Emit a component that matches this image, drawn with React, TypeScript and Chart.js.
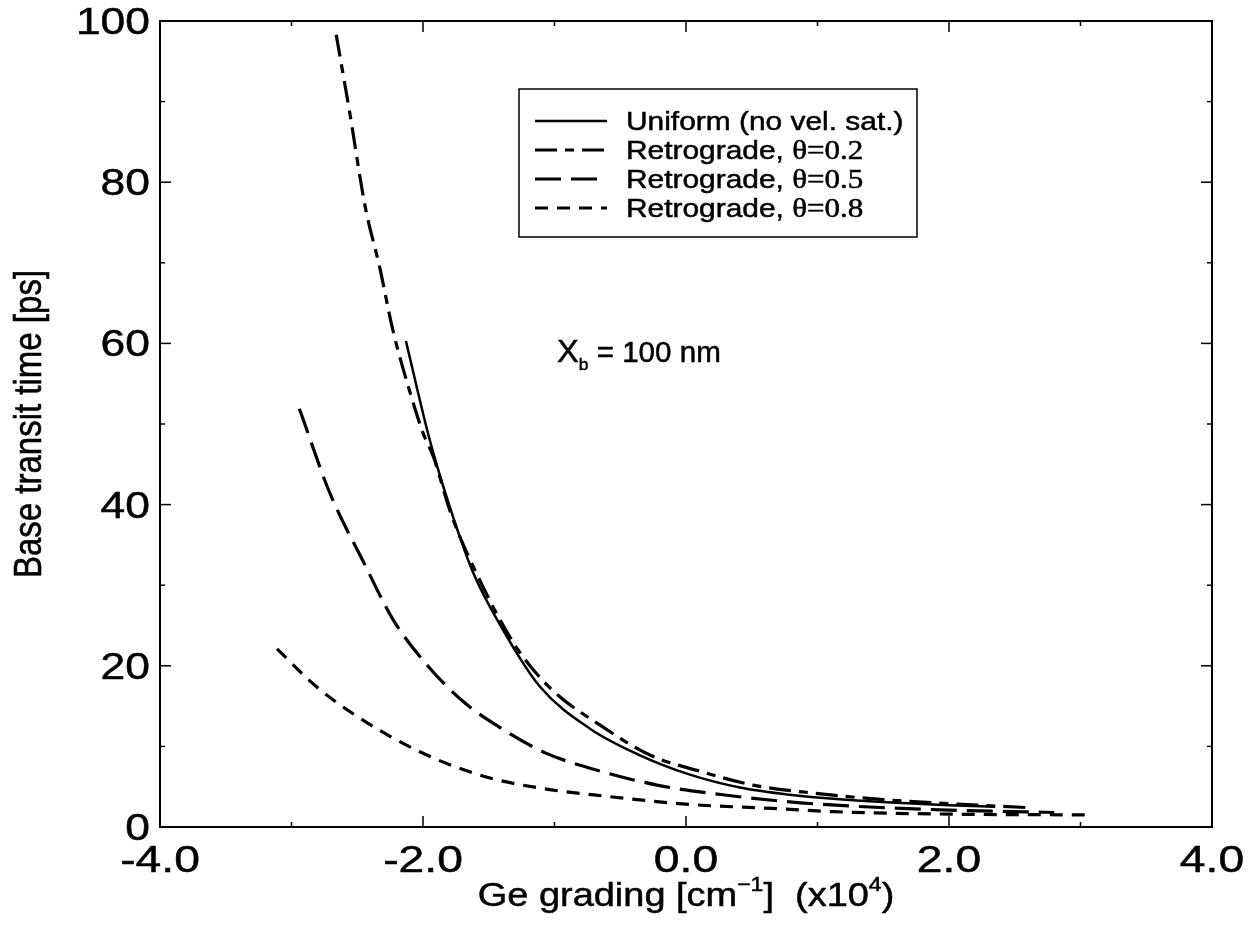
import React, { useEffect, useRef } from "react";
import { Chart, registerables } from "chart.js";

Chart.register(...registerables);

// Ge grading in units of 1e4 cm^-1, base transit time in ps
const uniformX = [-2.13, -1.95, -1.79, -1.62, -1.39, -1.11, -0.73, -0.35, 0.03, 0.41, 0.79, 1.12, 1.6, 2.0, 2.35];
const uniformY = [60.3, 48.1, 39.4, 31.6, 24.4, 17.4, 12.2, 8.9, 6.5, 4.9, 4.0, 3.5, 3.0, 2.7, 2.5];

const retro02X = [-2.66, -2.56, -2.44, -2.33, -2.23, -2.1, -2.0, -1.92, -1.79, -1.55, -1.29, -1.03, -0.65, -0.27, 0.11, 0.51, 0.97, 1.5, 2.0, 2.6];
const retro02Y = [98.3, 88.9, 77.0, 69.5, 61.7, 54.0, 48.9, 45.9, 39.0, 30.0, 22.3, 17.2, 12.6, 8.9, 6.9, 5.2, 4.2, 3.4, 2.9, 2.4];

const retro05X = [-2.94, -2.71, -2.45, -2.23, -1.97, -1.69, -1.44, -1.07, -0.73, -0.22, 0.28, 0.87, 1.5, 2.0, 2.8];
const retro05Y = [51.9, 41.5, 32.8, 25.8, 20.1, 15.5, 12.6, 9.2, 7.3, 5.2, 4.0, 3.0, 2.4, 2.1, 1.8];

const retro08X = [-3.11, -2.81, -2.48, -2.02, -1.54, -1.1, -0.6, 0.03, 0.66, 1.12, 2.0, 3.07];
const retro08Y = [22.1, 17.4, 13.5, 9.3, 6.3, 4.8, 3.8, 2.8, 2.3, 1.9, 1.6, 1.5];

const seriesNames = ["Uniform (no vel. sat.)", "Retrograde, ", "Retrograde, ", "Retrograde, "];
const thetaLabels = ["", "\u03b8=0.2", "\u03b8=0.5", "\u03b8=0.8"];
const seriesDash: number[][] = [[], [22, 8, 9, 8], [26, 10], [13, 9]];

const xMajorTicks = [-4, -2, 0, 2, 4];
const xTickLabels = ["-4.0", "-2.0", "0.0", "2.0", "4.0"];
const xMinorTicks = [-3, -1, 1, 3];
const yMajorTicks = [0, 20, 40, 60, 80, 100];
const yTickLabels = ["0", "20", "40", "60", "80", "100"];
const yMinorTicks = [10, 30, 50, 70, 90];

const SANS = '"Liberation Sans", Arial, Helvetica, sans-serif';
const SERIF = '"Liberation Serif", "Times New Roman", serif';
const STRETCH = 1.15;

type Run = { t: string; size: number; family?: string; dy?: number };

// Draws a sequence of text runs (mixed sizes / fonts / offsets), widened by `stretch`
function drawRuns(
  ctx: CanvasRenderingContext2D,
  runs: Run[],
  x: number,
  y: number,
  align: "left" | "center" | "right",
  rotate = false,
  stretch = STRETCH
) {
  ctx.save();
  ctx.translate(x, y);
  ctx.scale(stretch, 1);
  if (rotate) ctx.rotate(-Math.PI / 2);
  ctx.textAlign = "left";
  ctx.textBaseline = "alphabetic";
  ctx.fillStyle = "#000";
  ctx.strokeStyle = "#000";
  ctx.lineWidth = 0.5;
  let total = 0;
  const widths = runs.map((r) => {
    ctx.font = `${r.size}px ${r.family || SANS}`;
    const w = ctx.measureText(r.t).width;
    total += w;
    return w;
  });
  let cx = align === "left" ? 0 : align === "center" ? -total / 2 : -total;
  runs.forEach((r, i) => {
    ctx.font = `${r.size}px ${r.family || SANS}`;
    ctx.fillText(r.t, cx, r.dy || 0);
    ctx.strokeText(r.t, cx, r.dy || 0);
    cx += widths[i];
  });
  ctx.restore();
}

const framePlugin = {
  id: "frameAndText",
  afterDraw(chart: any) {
    const ctx: CanvasRenderingContext2D = chart.ctx;
    const { left, right, top, bottom } = chart.chartArea;
    const xs = chart.scales.x;
    const ys = chart.scales.y;
    ctx.save();
    ctx.strokeStyle = "#000";
    ctx.lineWidth = 2;
    ctx.strokeRect(left, top, right - left, bottom - top);

    // inward ticks on all four sides
    const tick = (x1: number, y1: number, x2: number, y2: number) => {
      ctx.beginPath();
      ctx.moveTo(x1, y1);
      ctx.lineTo(x2, y2);
      ctx.stroke();
    };
    ctx.lineWidth = 1.5;
    xMajorTicks.forEach((v) => {
      const px = xs.getPixelForValue(v);
      tick(px, bottom, px, bottom - 11);
      tick(px, top, px, top + 11);
    });
    xMinorTicks.forEach((v) => {
      const px = xs.getPixelForValue(v);
      tick(px, bottom, px, bottom - 5);
      tick(px, top, px, top + 5);
    });
    yMajorTicks.forEach((v) => {
      const py = ys.getPixelForValue(v);
      tick(left, py, left + 11, py);
      tick(right, py, right - 11, py);
    });
    yMinorTicks.forEach((v) => {
      const py = ys.getPixelForValue(v);
      tick(left, py, left + 5, py);
      tick(right, py, right - 5, py);
    });

    // tick labels
    xMajorTicks.forEach((v, i) => {
      drawRuns(ctx, [{ t: xTickLabels[i], size: 37 }], xs.getPixelForValue(v), 872, "center", false, 1.25);
    });
    yMajorTicks.forEach((v, i) => {
      drawRuns(ctx, [{ t: yTickLabels[i], size: 37 }], 150, ys.getPixelForValue(v) + 13, "right", false, 1.2);
    });

    // axis titles
    drawRuns(
      ctx,
      [
        { t: "Ge grading [cm", size: 33 },
        { t: "\u22121", size: 20, dy: -15 },
        { t: "]  (x10", size: 33 },
        { t: "4", size: 20, dy: -15 },
        { t: ")", size: 33 },
      ],
      (left + right) / 2,
      906,
      "center"
    );
    drawRuns(ctx, [{ t: "Base transit time [ps]", size: 33 }], 41, (top + bottom) / 2, "center", true, 1.2);

    // annotation
    drawRuns(
      ctx,
      [
        { t: "X", size: 32 },
        { t: "b", size: 17, dy: 8 },
        { t: " = 100 nm", size: 29 },
      ],
      557,
      362,
      "left",
      false,
      1.02
    );

    // legend
    ctx.lineWidth = 1.5;
    ctx.strokeRect(519, 89, 398, 148);
    const rowY = [121, 150, 179, 208];
    rowY.forEach((ry, i) => {
      ctx.save();
      ctx.lineWidth = i === 0 ? 2.5 : 3;
      ctx.setLineDash(seriesDash[i]);
      ctx.beginPath();
      ctx.moveTo(535, ry);
      ctx.lineTo(607, ry);
      ctx.stroke();
      ctx.restore();
      const runs: Run[] = [{ t: seriesNames[i], size: 26 }];
      if (thetaLabels[i]) runs.push({ t: thetaLabels[i], size: 27, family: SERIF });
      drawRuns(ctx, runs, 626, ry + 9, "left");
    });
    ctx.restore();
  },
};

function toPoints(xs: number[], ys: number[]) {
  return xs.map((x, i) => ({ x, y: ys[i] }));
}

export default function App() {
  const canvasRef = useRef<HTMLCanvasElement | null>(null);

  useEffect(() => {
    if (!canvasRef.current) return;
    const common = {
      borderColor: "#000",
      backgroundColor: "#000",
      pointRadius: 0,
      fill: false,
      showLine: true,
      cubicInterpolationMode: "monotone" as const,
    };
    const chart = new Chart(canvasRef.current, {
      type: "line",
      data: {
        datasets: [
          { ...common, label: seriesNames[0], data: toPoints(uniformX, uniformY), borderWidth: 2.5, borderDash: seriesDash[0] },
          { ...common, label: seriesNames[1] + thetaLabels[1], data: toPoints(retro02X, retro02Y), borderWidth: 3.2, borderDash: seriesDash[1] },
          { ...common, label: seriesNames[2] + thetaLabels[2], data: toPoints(retro05X, retro05Y), borderWidth: 3.2, borderDash: seriesDash[2] },
          { ...common, label: seriesNames[3] + thetaLabels[3], data: toPoints(retro08X, retro08Y), borderWidth: 3.2, borderDash: seriesDash[3] },
        ],
      },
      options: {
        animation: false,
        responsive: false,
        devicePixelRatio: 1,
        layout: { padding: { left: 160, right: 38, top: 21, bottom: 99 } },
        plugins: { legend: { display: false }, tooltip: { enabled: false } },
        scales: {
          x: { type: "linear", min: -4, max: 4, display: false },
          y: { type: "linear", min: 0, max: 100, display: false },
        },
      },
      plugins: [framePlugin],
    });
    return () => chart.destroy();
  }, []);

  return (
    <div style={{ position: "fixed", left: 0, top: 0, width: 1250, height: 926, background: "#fff" }}>
      <canvas ref={canvasRef} width={1250} height={926} />
    </div>
  );
}
